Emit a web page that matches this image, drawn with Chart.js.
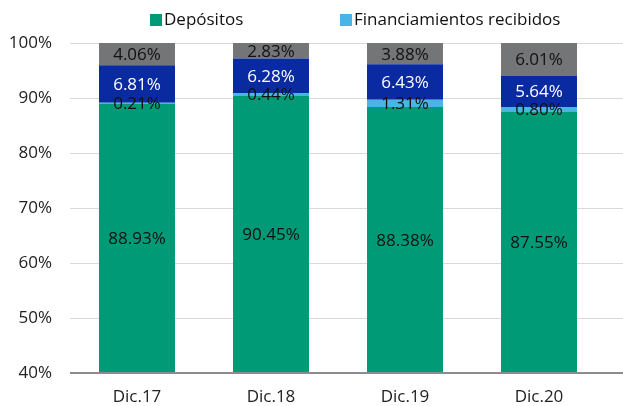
<!DOCTYPE html>
<html>
<head>
<meta charset="utf-8">
<script src="https://cdn.jsdelivr.net/npm/chart.js@4/dist/chart.umd.min.js"></script>
<style>
html,body{margin:0;padding:0;background:#fff;}
#wrap{width:623px;height:406px;position:relative;}
</style>
</head>
<body>
<div id="wrap"><canvas id="c"></canvas></div>
<script>
const categories = ["Dic.17", "Dic.18", "Dic.19", "Dic.20"];
const depositos = [88.93, 90.45, 88.38, 87.55];
const financiamientos = [0.21, 0.44, 1.31, 0.80];
const serieAzul = [6.81, 6.28, 6.43, 5.64];
const serieGris = [4.06, 2.83, 3.88, 6.01];
const yTicks = [40, 50, 60, 70, 80, 90, 100];
const legendNames = ["Depósitos", "Financiamientos recibidos"];

const FONT = "'Open Sans', 'Noto Sans', sans-serif";

const gridPlugin = {
  id: 'gridExt',
  beforeDatasetsDraw(chart) {
    const ctx = chart.ctx, y = chart.scales.y, area = chart.chartArea;
    ctx.save();
    yTicks.forEach(v => {
      if (v === 40) return;
      const py = Math.round(y.getPixelForValue(v)) + 0.5;
      ctx.strokeStyle = '#d9d9d9';
      ctx.lineWidth = 1;
      ctx.beginPath();
      ctx.moveTo(area.left, py);
      ctx.lineTo(chart.width, py);
      ctx.stroke();
    });
    ctx.restore();
  },
  afterDatasetsDraw(chart) {
    const ctx = chart.ctx, y = chart.scales.y, area = chart.chartArea;
    ctx.save();
    const py = Math.round(y.getPixelForValue(40));
    ctx.strokeStyle = '#8c8c8c';
    ctx.lineWidth = 2;
    ctx.beginPath();
    ctx.moveTo(area.left, py);
    ctx.lineTo(chart.width, py);
    ctx.stroke();
    ctx.restore();
  }
};

const labelPlugin = {
  id: 'segLabels',
  afterDatasetsDraw(chart) {
    const ctx = chart.ctx, area = chart.chartArea;
    ctx.save();
    ctx.font = "17px " + FONT;
    ctx.textAlign = 'center';
    ctx.textBaseline = 'middle';
    chart.data.datasets.forEach((ds, di) => {
      const meta = chart.getDatasetMeta(di);
      meta.data.forEach((el, i) => {
        const p = el.getProps(['x', 'y', 'base'], true);
        const top = Math.max(Math.min(p.y, p.base), area.top);
        const bot = Math.min(Math.max(p.y, p.base), area.bottom);
        ctx.fillStyle = ds.labelColor;
        ctx.fillText(ds.data[i].toFixed(2) + '%', p.x, (top + bot) / 2 + 1);
      });
    });
    ctx.restore();
  }
};

const legendPlugin = {
  id: 'customLegend',
  afterDraw(chart) {
    const ctx = chart.ctx;
    ctx.save();
    ctx.font = "17px " + FONT;
    ctx.textBaseline = 'middle';
    ctx.textAlign = 'left';
    const xs = [150, 340];
    const cols = [chart.data.datasets[0].backgroundColor, chart.data.datasets[1].backgroundColor];
    legendNames.forEach((n, i) => {
      ctx.fillStyle = cols[i];
      ctx.fillRect(xs[i], 14, 12, 12);
      ctx.fillStyle = '#111';
      ctx.fillText(n, xs[i] + 14, 20);
    });
    ctx.restore();
  }
};

new Chart(document.getElementById('c'), {
  type: 'bar',
  data: {
    labels: categories,
    datasets: [
      { label: legendNames[0], data: depositos, backgroundColor: '#009a77', labelColor: '#111' },
      { label: legendNames[1], data: financiamientos, backgroundColor: '#49b4e6', labelColor: '#111' },
      { label: 'Otros pasivos', data: serieAzul, backgroundColor: '#0a2aa2', labelColor: '#ffffff' },
      { label: 'Patrimonio', data: serieGris, backgroundColor: '#747577', labelColor: '#111' }
    ]
  },
  options: {
    responsive: true,
    maintainAspectRatio: false,
    animation: false,
    layout: { padding: { top: 43, left: 10, right: 17, bottom: 0 } },
    datasets: { bar: { barPercentage: 0.567, categoryPercentage: 1.0, borderWidth: 0 } },
    plugins: { legend: { display: false }, tooltip: { enabled: false } },
    scales: {
      x: {
        stacked: true,
        grid: { display: false, drawTicks: false },
        border: { display: false },
        ticks: { color: '#222', font: { family: FONT, size: 17 }, padding: 14 },
        afterFit(s) { s.height = 33; }
      },
      y: {
        stacked: true,
        min: 40, max: 100,
        afterBuildTicks(s) { s.ticks = yTicks.map(v => ({ value: v })); },
        grid: { display: false, drawTicks: false },
        border: { display: false },
        ticks: { color: '#222', font: { family: FONT, size: 17 }, padding: 18, callback: v => v + '%' },
        afterFit(s) { s.width = 60; }
      }
    }
  },
  plugins: [gridPlugin, labelPlugin, legendPlugin]
});
</script>
</body>
</html>
